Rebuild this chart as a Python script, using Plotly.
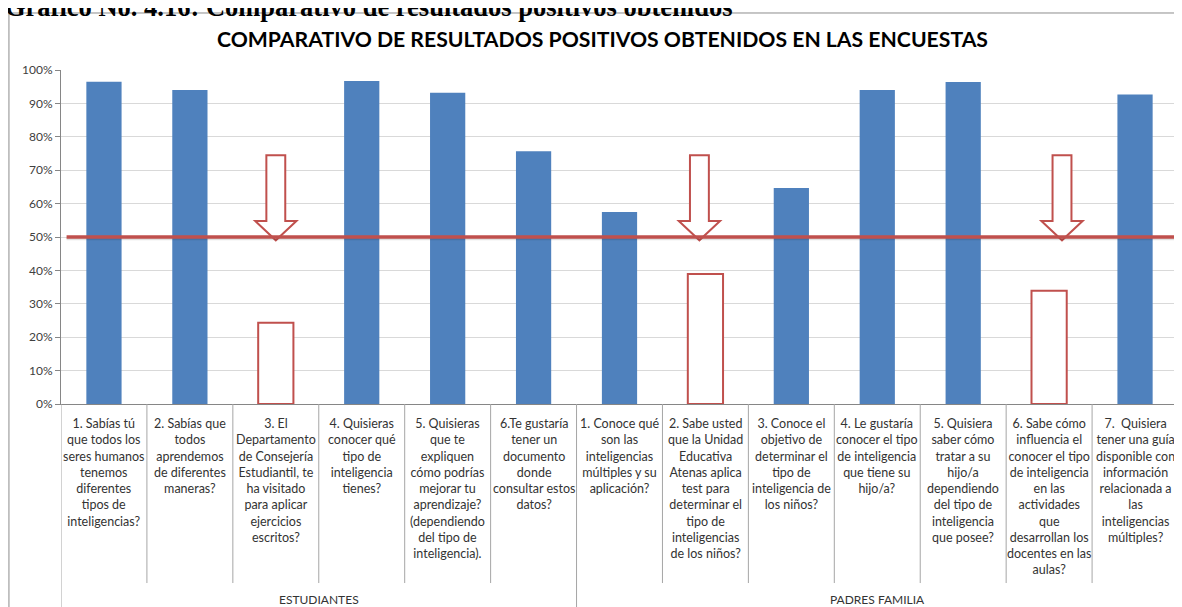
import plotly.graph_objects as go

# ---------------- data ----------------
categories = [
    "1. Sabías tú<br>que todos los<br>seres humanos<br>tenemos<br>diferentes<br>tipos de<br>inteligencias?",
    "2. Sabías que<br>todos<br>aprendemos<br>de diferentes<br>maneras?",
    "3. El<br>Departamento<br>de Consejería<br>Estudiantil, te<br>ha visitado<br>para aplicar<br>ejercicios<br>escritos?",
    "4. Quisieras<br>conocer qué<br>tipo de<br>inteligencia<br>tienes?",
    "5. Quisieras<br>que te<br>expliquen<br>cómo podrías<br>mejorar tu<br>aprendizaje?<br>(dependiendo<br>del tipo de<br>inteligencia).",
    "6.Te gustaría<br>tener un<br>documento<br>donde<br>consultar estos<br>datos?",
    "1. Conoce qué<br>son las<br>inteligencias<br>múltiples y su<br>aplicación?",
    "2. Sabe usted<br>que la Unidad<br>Educativa<br>Atenas aplica<br>test para<br>determinar el<br>tipo de<br>inteligencias<br>de los niños?",
    "3. Conoce el<br>objetivo de<br>determinar el<br>tipo de<br>inteligencia de<br>los niños?",
    "4. Le gustaría<br>conocer el tipo<br>de inteligencia<br>que tiene su<br>hijo/a?",
    "5. Quisiera<br>saber cómo<br>tratar a su<br>hijo/a<br>dependiendo<br>del tipo de<br>inteligencia<br>que posee?",
    "6. Sabe cómo<br>influencia el<br>conocer el tipo<br>de inteligencia<br>en las<br>actividades<br>que<br>desarrollan los<br>docentes en las<br>aulas?",
    "7.  Quisiera<br>tener una guía<br>disponible con<br>información<br>relacionada a<br>las<br>inteligencias<br>múltiples?",
]
groups = ["ESTUDIANTES"] * 6 + ["PADRES FAMILIA"] * 7
values = [96.5, 94.0, 24.3, 96.7, 93.2, 75.7, 57.5, 38.9, 64.7, 94.0, 96.4, 33.9, 92.7]
below_half = [2, 7, 11]          # questions highlighted (below 50 %)
threshold = 50
y_ticks = [0, 10, 20, 30, 40, 50, 60, 70, 80, 90, 100]
y_tick_labels = ["0%", "10%", "20%", "30%", "40%", "50%", "60%", "70%", "80%", "90%", "100%"]

title = "COMPARATIVO DE RESULTADOS POSITIVOS OBTENIDOS EN LAS ENCUESTAS"
caption = "Grafico No. 4.16: Comparativo de resultados positivos obtenidos"

# ---------------- styles ----------------
BLUE = "#4F81BD"
RED = "#C0504D"
FONT = "Lato"
TXT = "#333333"

n = len(values)
xs = list(range(n))
fill = ["white" if i in below_half else BLUE for i in xs]
lcol = [RED if i in below_half else BLUE for i in xs]
lw = [2 if i in below_half else 0 for i in xs]

fig = go.Figure()
fig.add_trace(go.Bar(
    x=xs, y=values, width=0.41,
    marker=dict(color=fill, line=dict(color=lcol, width=lw)),
    showlegend=False, hoverinfo="y",
))

shapes = []
# hollow arrows pointing to threshold line
arrow_offsets = {2: 0.0, 7: -0.07, 11: 0.15}
arrow_top, arrow_base, arrow_tip = 74.5, 54.8, 49.0
sw, hw = 0.11, 0.24
for i in below_half:
    cx = i + arrow_offsets.get(i, 0)
    path = (f"M {cx-sw},{arrow_top} L {cx+sw},{arrow_top} L {cx+sw},{arrow_base} "
            f"L {cx+hw},{arrow_base} L {cx},{arrow_tip} L {cx-hw},{arrow_base} "
            f"L {cx-sw},{arrow_base} Z")
    shapes.append(dict(type="path", path=path, xref="x", yref="y",
                       fillcolor="white", line=dict(color=RED, width=2)))

# threshold line with slight shadow
shapes.append(dict(type="line", xref="paper", yref="y", x0=0.005, x1=1.01,
                   y0=threshold - 0.5, y1=threshold - 0.5,
                   line=dict(color="rgba(0,0,0,0.12)", width=3)))
shapes.append(dict(type="line", xref="paper", yref="y", x0=0.005, x1=1.01,
                   y0=threshold, y1=threshold, line=dict(color=RED, width=3.5)))

# category dividers in label area
group_bounds = {-0.5, n - 0.5}
for i in range(1, n):
    if groups[i] != groups[i - 1]:
        group_bounds.add(i - 0.5)
for k in range(n + 1):
    b = k - 0.5
    y1 = -0.65 if b in group_bounds else -0.536
    shapes.append(dict(type="line", xref="x", yref="paper", x0=b, x1=b,
                       y0=0, y1=y1, line=dict(color="#a6a6a6", width=1)))

# outer chart border
shapes.append(dict(type="rect", xref="paper", yref="paper",
                   x0=-0.0466, x1=1.02, y0=-0.7, y1=1.1707,
                   line=dict(color="#8c8c8c", width=1), fillcolor="rgba(0,0,0,0)",
                   layer="below"))

annotations = []
for i, lab in enumerate(categories):
    annotations.append(dict(x=i, y=-0.031, xref="x", yref="paper", text=lab,
                            showarrow=False, xanchor="center", yanchor="top",
                            align="center", font=dict(family=FONT, size=12.5, color=TXT)))
# group labels
seen = []
for g in groups:
    if g not in seen:
        seen.append(g)
for g in seen:
    idx = [i for i, gg in enumerate(groups) if gg == g]
    cx = (min(idx) + max(idx)) / 2
    annotations.append(dict(x=cx, y=-0.584, xref="x", yref="paper", text=g,
                            showarrow=False, xanchor="center", yanchor="middle",
                            font=dict(family=FONT, size=12, color=TXT)))
# chart title
annotations.append(dict(x=0.485, y=1.094, xref="paper", yref="paper", text=f"<b>{title}</b>",
                        showarrow=False, xanchor="center", yanchor="middle",
                        font=dict(family=FONT, size=21.2, color="#000000")))
# document caption (partially cut off at top)
annotations.append(dict(x=-0.052, y=1.19, xref="paper", yref="paper", text=f"<b>{caption}</b>",
                        showarrow=False, xanchor="left", yanchor="middle",
                        font=dict(family="Liberation Serif", size=26.5, color="#000000")))

# page body adds an 8px offset; margins compensate so the plot area lands
# at the reference position
fig.update_layout(
    width=1182, height=607,
    margin=dict(l=53, r=12, t=62, b=211),
    paper_bgcolor="white", plot_bgcolor="white",
    shapes=shapes, annotations=annotations,
    xaxis=dict(range=[-0.5, n - 0.5], showticklabels=False, showgrid=False,
               zeroline=False, showline=True, linecolor="#868686", ticks=""),
    yaxis=dict(range=[0, 100], tickmode="array", tickvals=y_ticks, ticktext=y_tick_labels,
               showgrid=True, gridcolor="#d9d9d9", gridwidth=1, zeroline=False, showline=True,
               linecolor="#868686", ticks="outside", ticklen=5, tickcolor="#868686",
               tickfont=dict(family=FONT, size=12, color="#404040")),
    bargap=0.59,
)

fig.write_html("out.html")
